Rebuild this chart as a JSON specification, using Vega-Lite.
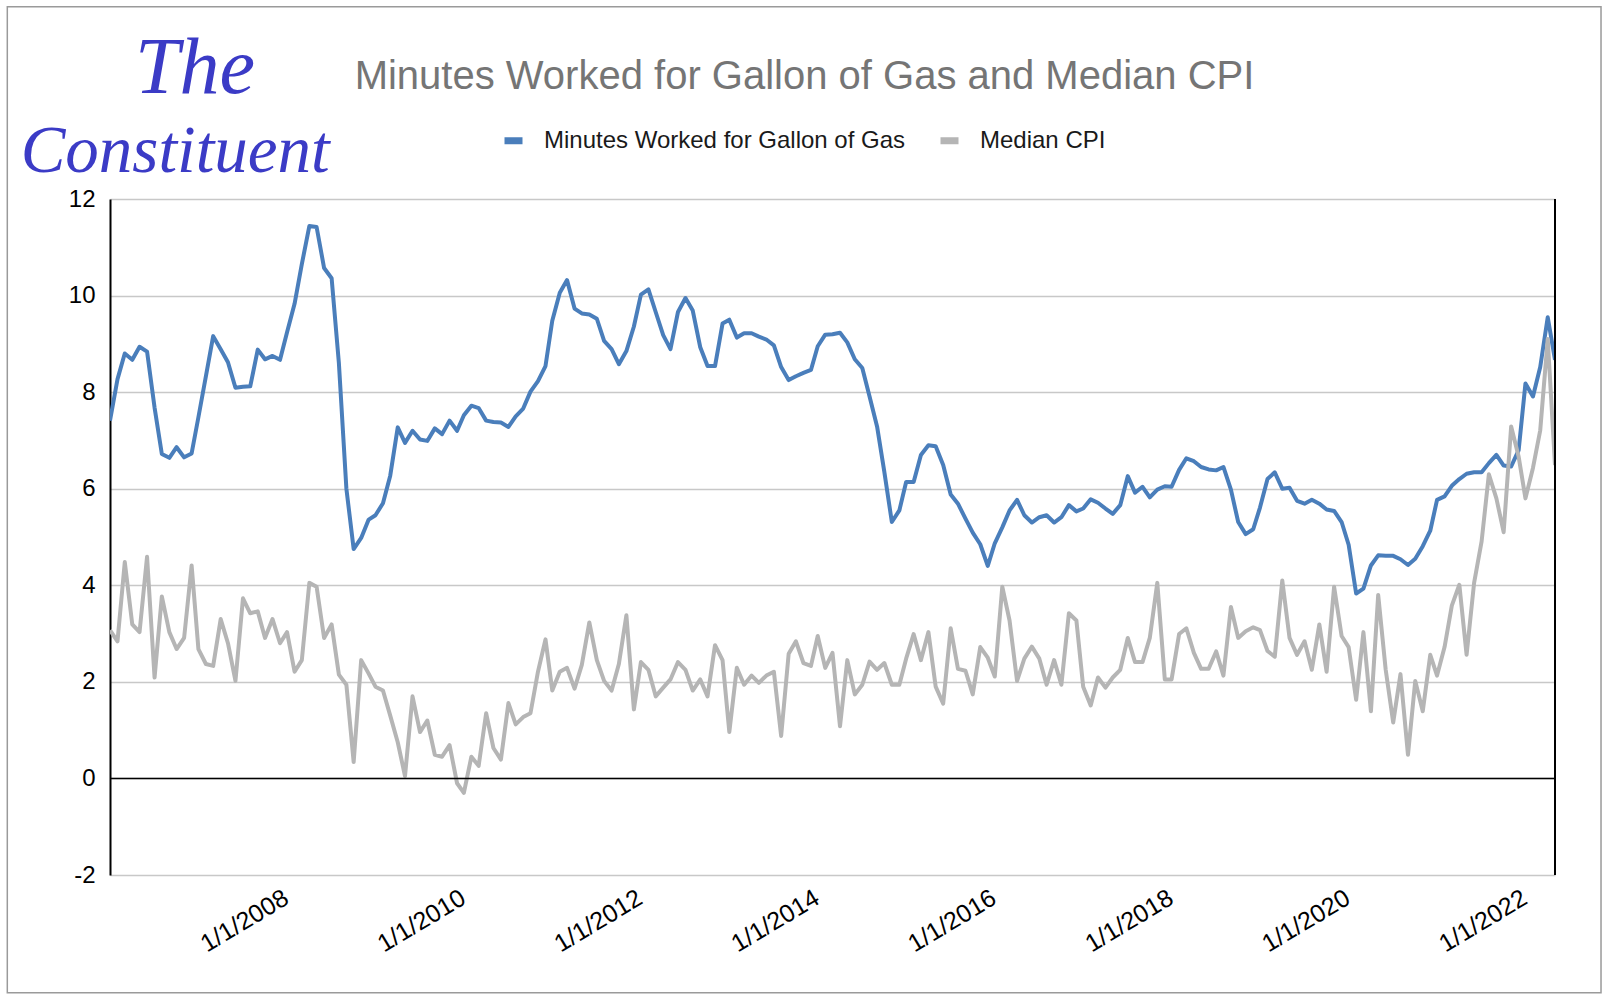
{
  "$schema": "https://vega.github.io/schema/vega-lite/v6.json",
  "width": 1445,
  "height": 676,
  "autosize": "none",
  "padding": {"left": 110, "top": 199, "right": 55, "bottom": 127},
  "background": "white",
  "title": {"text": "Minutes Worked for Gallon of Gas and Median CPI", "font": "Liberation Sans", "fontSize": 40, "fontWeight": "normal", "color": "#757575", "anchor": "middle", "frame": "group", "baseline": "alphabetic", "offset": -123, "dx": -28},
  "config": {"view": {"stroke": null}, "font": "Liberation Sans", "axis": {"labelFont": "Liberation Sans"}, "legend": {"labelFont": "Liberation Sans"}},
  "data": {"values": [
    {"date":"2006-03-01","gas":7.41,"cpi":3.07},{"date":"2006-04-01","gas":8.27,"cpi":2.84},{"date":"2006-05-01","gas":8.80,"cpi":4.48},{"date":"2006-06-01","gas":8.67,"cpi":3.19},{"date":"2006-07-01","gas":8.94,"cpi":3.03},{"date":"2006-08-01","gas":8.84,"cpi":4.59},{"date":"2006-09-01","gas":7.68,"cpi":2.09},{"date":"2006-10-01","gas":6.72,"cpi":3.77},{"date":"2006-11-01","gas":6.64,"cpi":3.03},{"date":"2006-12-01","gas":6.86,"cpi":2.68},
    {"date":"2007-01-01","gas":6.65,"cpi":2.91},{"date":"2007-02-01","gas":6.73,"cpi":4.41},{"date":"2007-03-01","gas":7.48,"cpi":2.68},{"date":"2007-04-01","gas":8.33,"cpi":2.37},{"date":"2007-05-01","gas":9.16,"cpi":2.33},{"date":"2007-06-01","gas":8.89,"cpi":3.30},{"date":"2007-07-01","gas":8.62,"cpi":2.80},{"date":"2007-08-01","gas":8.09,"cpi":2.02},{"date":"2007-09-01","gas":8.11,"cpi":3.73},{"date":"2007-10-01","gas":8.12,"cpi":3.42},{"date":"2007-11-01","gas":8.88,"cpi":3.46},{"date":"2007-12-01","gas":8.68,"cpi":2.91},
    {"date":"2008-01-01","gas":8.75,"cpi":3.30},{"date":"2008-02-01","gas":8.67,"cpi":2.80},{"date":"2008-03-01","gas":9.24,"cpi":3.03},{"date":"2008-04-01","gas":9.83,"cpi":2.21},{"date":"2008-05-01","gas":10.65,"cpi":2.45},{"date":"2008-06-01","gas":11.44,"cpi":4.05},{"date":"2008-07-01","gas":11.42,"cpi":3.97},{"date":"2008-08-01","gas":10.57,"cpi":2.91},{"date":"2008-09-01","gas":10.36,"cpi":3.19},{"date":"2008-10-01","gas":8.6,"cpi":2.15},{"date":"2008-11-01","gas":6.0,"cpi":1.94},{"date":"2008-12-01","gas":4.75,"cpi":0.34},
    {"date":"2009-01-01","gas":4.98,"cpi":2.45},{"date":"2009-02-01","gas":5.36,"cpi":2.17},{"date":"2009-03-01","gas":5.45,"cpi":1.90},{"date":"2009-04-01","gas":5.70,"cpi":1.82},{"date":"2009-05-01","gas":6.27,"cpi":1.30},{"date":"2009-06-01","gas":7.27,"cpi":0.75},{"date":"2009-07-01","gas":6.95,"cpi":0.05},{"date":"2009-08-01","gas":7.20,"cpi":1.70},{"date":"2009-09-01","gas":7.02,"cpi":0.96},{"date":"2009-10-01","gas":6.99,"cpi":1.20},{"date":"2009-11-01","gas":7.25,"cpi":0.49},{"date":"2009-12-01","gas":7.13,"cpi":0.45},
    {"date":"2010-01-01","gas":7.41,"cpi":0.69},{"date":"2010-02-01","gas":7.20,"cpi":-0.1},{"date":"2010-03-01","gas":7.52,"cpi":-0.3},{"date":"2010-04-01","gas":7.72,"cpi":0.45},{"date":"2010-05-01","gas":7.67,"cpi":0.26},{"date":"2010-06-01","gas":7.41,"cpi":1.35},{"date":"2010-07-01","gas":7.38,"cpi":0.63},{"date":"2010-08-01","gas":7.37,"cpi":0.39},{"date":"2010-09-01","gas":7.28,"cpi":1.56},{"date":"2010-10-01","gas":7.50,"cpi":1.12},{"date":"2010-11-01","gas":7.66,"cpi":1.27},{"date":"2010-12-01","gas":8.01,"cpi":1.35},
    {"date":"2011-01-01","gas":8.23,"cpi":2.21},{"date":"2011-02-01","gas":8.54,"cpi":2.88},{"date":"2011-03-01","gas":9.48,"cpi":1.82},{"date":"2011-04-01","gas":10.06,"cpi":2.21},{"date":"2011-05-01","gas":10.32,"cpi":2.29},{"date":"2011-06-01","gas":9.73,"cpi":1.86},{"date":"2011-07-01","gas":9.63,"cpi":2.35},{"date":"2011-08-01","gas":9.61,"cpi":3.23},{"date":"2011-09-01","gas":9.52,"cpi":2.45},{"date":"2011-10-01","gas":9.06,"cpi":2.02},{"date":"2011-11-01","gas":8.89,"cpi":1.82},{"date":"2011-12-01","gas":8.58,"cpi":2.37},
    {"date":"2012-01-01","gas":8.85,"cpi":3.38},{"date":"2012-02-01","gas":9.36,"cpi":1.43},{"date":"2012-03-01","gas":10.02,"cpi":2.41},{"date":"2012-04-01","gas":10.13,"cpi":2.25},{"date":"2012-05-01","gas":9.66,"cpi":1.70},{"date":"2012-06-01","gas":9.18,"cpi":1.88},{"date":"2012-07-01","gas":8.89,"cpi":2.05},{"date":"2012-08-01","gas":9.66,"cpi":2.41},{"date":"2012-09-01","gas":9.95,"cpi":2.25},{"date":"2012-10-01","gas":9.69,"cpi":1.82},{"date":"2012-11-01","gas":8.93,"cpi":2.05},{"date":"2012-12-01","gas":8.54,"cpi":1.70},
    {"date":"2013-01-01","gas":8.54,"cpi":2.76},{"date":"2013-02-01","gas":9.42,"cpi":2.45},{"date":"2013-03-01","gas":9.50,"cpi":0.96},{"date":"2013-04-01","gas":9.13,"cpi":2.29},{"date":"2013-05-01","gas":9.22,"cpi":1.94},{"date":"2013-06-01","gas":9.22,"cpi":2.13},{"date":"2013-07-01","gas":9.15,"cpi":1.98},{"date":"2013-08-01","gas":9.09,"cpi":2.13},{"date":"2013-09-01","gas":8.97,"cpi":2.21},{"date":"2013-10-01","gas":8.52,"cpi":0.88},{"date":"2013-11-01","gas":8.25,"cpi":2.58},{"date":"2013-12-01","gas":8.33,"cpi":2.84},
    {"date":"2014-01-01","gas":8.40,"cpi":2.39},{"date":"2014-02-01","gas":8.46,"cpi":2.33},{"date":"2014-03-01","gas":8.95,"cpi":2.95},{"date":"2014-04-01","gas":9.19,"cpi":2.29},{"date":"2014-05-01","gas":9.20,"cpi":2.60},{"date":"2014-06-01","gas":9.23,"cpi":1.08},{"date":"2014-07-01","gas":9.03,"cpi":2.45},{"date":"2014-08-01","gas":8.68,"cpi":1.74},{"date":"2014-09-01","gas":8.50,"cpi":1.94},{"date":"2014-10-01","gas":7.91,"cpi":2.42},{"date":"2014-11-01","gas":7.29,"cpi":2.25},{"date":"2014-12-01","gas":6.35,"cpi":2.39},
    {"date":"2015-01-01","gas":5.31,"cpi":1.94},{"date":"2015-02-01","gas":5.55,"cpi":1.94},{"date":"2015-03-01","gas":6.14,"cpi":2.48},{"date":"2015-04-01","gas":6.14,"cpi":2.99},{"date":"2015-05-01","gas":6.70,"cpi":2.45},{"date":"2015-06-01","gas":6.90,"cpi":3.03},{"date":"2015-07-01","gas":6.88,"cpi":1.90},{"date":"2015-08-01","gas":6.49,"cpi":1.55},{"date":"2015-09-01","gas":5.88,"cpi":3.11},{"date":"2015-10-01","gas":5.69,"cpi":2.27},{"date":"2015-11-01","gas":5.38,"cpi":2.23},{"date":"2015-12-01","gas":5.09,"cpi":1.74},
    {"date":"2016-01-01","gas":4.85,"cpi":2.72},{"date":"2016-02-01","gas":4.40,"cpi":2.50},{"date":"2016-03-01","gas":4.87,"cpi":2.11},{"date":"2016-04-01","gas":5.20,"cpi":3.97},{"date":"2016-05-01","gas":5.55,"cpi":3.27},{"date":"2016-06-01","gas":5.77,"cpi":2.02},{"date":"2016-07-01","gas":5.45,"cpi":2.48},{"date":"2016-08-01","gas":5.30,"cpi":2.73},{"date":"2016-09-01","gas":5.41,"cpi":2.48},{"date":"2016-10-01","gas":5.45,"cpi":1.94},{"date":"2016-11-01","gas":5.30,"cpi":2.45},{"date":"2016-12-01","gas":5.41,"cpi":1.94},
    {"date":"2017-01-01","gas":5.66,"cpi":3.42},{"date":"2017-02-01","gas":5.53,"cpi":3.27},{"date":"2017-03-01","gas":5.59,"cpi":1.90},{"date":"2017-04-01","gas":5.78,"cpi":1.51},{"date":"2017-05-01","gas":5.71,"cpi":2.09},{"date":"2017-06-01","gas":5.59,"cpi":1.88},{"date":"2017-07-01","gas":5.48,"cpi":2.09},{"date":"2017-08-01","gas":5.66,"cpi":2.25},{"date":"2017-09-01","gas":6.26,"cpi":2.91},{"date":"2017-10-01","gas":5.92,"cpi":2.41},{"date":"2017-11-01","gas":6.04,"cpi":2.41},{"date":"2017-12-01","gas":5.82,"cpi":2.91},
    {"date":"2018-01-01","gas":5.98,"cpi":4.05},{"date":"2018-02-01","gas":6.05,"cpi":2.05},{"date":"2018-03-01","gas":6.04,"cpi":2.05},{"date":"2018-04-01","gas":6.39,"cpi":2.99},{"date":"2018-05-01","gas":6.63,"cpi":3.11},{"date":"2018-06-01","gas":6.57,"cpi":2.60},{"date":"2018-07-01","gas":6.45,"cpi":2.27},{"date":"2018-08-01","gas":6.40,"cpi":2.27},{"date":"2018-09-01","gas":6.38,"cpi":2.63},{"date":"2018-10-01","gas":6.45,"cpi":2.13},{"date":"2018-11-01","gas":5.98,"cpi":3.55},{"date":"2018-12-01","gas":5.31,"cpi":2.91},
    {"date":"2019-01-01","gas":5.06,"cpi":3.05},{"date":"2019-02-01","gas":5.16,"cpi":3.13},{"date":"2019-03-01","gas":5.61,"cpi":3.07},{"date":"2019-04-01","gas":6.20,"cpi":2.64},{"date":"2019-05-01","gas":6.34,"cpi":2.52},{"date":"2019-06-01","gas":6.00,"cpi":4.10},{"date":"2019-07-01","gas":6.02,"cpi":2.91},{"date":"2019-08-01","gas":5.75,"cpi":2.56},{"date":"2019-09-01","gas":5.69,"cpi":2.84},{"date":"2019-10-01","gas":5.77,"cpi":2.25},{"date":"2019-11-01","gas":5.69,"cpi":3.19},{"date":"2019-12-01","gas":5.57,"cpi":2.21},
    {"date":"2020-01-01","gas":5.54,"cpi":3.97},{"date":"2020-02-01","gas":5.31,"cpi":2.95},{"date":"2020-03-01","gas":4.84,"cpi":2.72},{"date":"2020-04-01","gas":3.83,"cpi":1.63},{"date":"2020-05-01","gas":3.93,"cpi":3.03},{"date":"2020-06-01","gas":4.41,"cpi":1.39},{"date":"2020-07-01","gas":4.62,"cpi":3.80},{"date":"2020-08-01","gas":4.61,"cpi":2.25},{"date":"2020-09-01","gas":4.61,"cpi":1.16},{"date":"2020-10-01","gas":4.54,"cpi":2.16},{"date":"2020-11-01","gas":4.42,"cpi":0.49},{"date":"2020-12-01","gas":4.55,"cpi":2.02},
    {"date":"2021-01-01","gas":4.81,"cpi":1.39},{"date":"2021-02-01","gas":5.13,"cpi":2.56},{"date":"2021-03-01","gas":5.77,"cpi":2.13},{"date":"2021-04-01","gas":5.84,"cpi":2.72},{"date":"2021-05-01","gas":6.06,"cpi":3.58},{"date":"2021-06-01","gas":6.20,"cpi":4.01},{"date":"2021-07-01","gas":6.31,"cpi":2.56},{"date":"2021-08-01","gas":6.34,"cpi":4.05},{"date":"2021-09-01","gas":6.34,"cpi":4.91},{"date":"2021-10-01","gas":6.53,"cpi":6.30},{"date":"2021-11-01","gas":6.70,"cpi":5.80},{"date":"2021-12-01","gas":6.48,"cpi":5.10},
    {"date":"2022-01-01","gas":6.46,"cpi":7.29},{"date":"2022-02-01","gas":6.80,"cpi":6.66},{"date":"2022-03-01","gas":8.18,"cpi":5.80},{"date":"2022-04-01","gas":7.91,"cpi":6.43},{"date":"2022-05-01","gas":8.52,"cpi":7.21},{"date":"2022-06-01","gas":9.55,"cpi":9.10},{"date":"2022-07-01","gas":8.67,"cpi":6.49}
  ]},
  "layer": [
    {
      "mark": {"type": "line", "strokeWidth": 4, "strokeJoin": "round", "clip": true},
      "encoding": {
        "x": {"field": "date", "type": "temporal", "scale": {"domain": [{"year": 2006, "month": 3, "date": 1}, {"year": 2022, "month": 7, "date": 1}]},
          "axis": {"values": [{"year": 2008, "month": 1, "date": 1}, {"year": 2010, "month": 1, "date": 1}, {"year": 2012, "month": 1, "date": 1}, {"year": 2014, "month": 1, "date": 1}, {"year": 2016, "month": 1, "date": 1}, {"year": 2018, "month": 1, "date": 1}, {"year": 2020, "month": 1, "date": 1}, {"year": 2022, "month": 1, "date": 1}],
            "format": "%-m/%-d/%Y", "labelAngle": -31, "labelAlign": "right", "labelBaseline": "top", "labelFontSize": 25, "labelColor": "black", "labelPadding": 10, "labelOffset": 7, "domain": false, "ticks": false, "grid": false, "title": null, "labelOverlap": false}},
        "y": {"field": "gas", "type": "quantitative", "scale": {"domain": [-2, 12], "nice": false, "zero": false},
          "axis": {"values": [-2, 0, 2, 4, 6, 8, 10, 12], "labelExpr": "replace(datum.label, '\u2212', '-')", "labelFontSize": 24, "labelColor": "black", "labelPadding": 15, "ticks": false, "domain": true, "domainColor": "black", "domainWidth": 2, "grid": true, "gridColor": "#c8c8c8", "gridWidth": 1.5, "title": null}},
        "color": {"datum": "Minutes Worked for Gallon of Gas", "scale": {"domain": ["Minutes Worked for Gallon of Gas", "Median CPI"], "range": ["#4a7ebb", "#b5b5b5"]},
          "legend": {"orient": "none", "direction": "horizontal", "legendX": 391, "legendY": -71, "title": null, "symbolType": "stroke", "symbolSize": 324, "symbolStrokeWidth": 7, "labelFontSize": 24, "labelColor": "#1a1a1a", "columnPadding": 20, "labelOffset": 18, "labelLimit": 600}}
      }
    },
    {
      "mark": {"type": "line", "strokeWidth": 4, "strokeJoin": "round", "clip": true},
      "encoding": {
        "x": {"field": "date", "type": "temporal"},
        "y": {"field": "cpi", "type": "quantitative"},
        "color": {"datum": "Median CPI"}
      }
    },
    {
      "data": {"values": [{}]},
      "mark": {"type": "rule", "color": "black", "strokeWidth": 1.5},
      "encoding": {
        "y": {"datum": 0, "type": "quantitative"}
      }
    },
    {
      "data": {"values": [{}]},
      "mark": {"type": "rule", "color": "black", "strokeWidth": 2},
      "encoding": {
        "x": {"datum": {"year": 2022, "month": 7, "date": 1}, "type": "temporal"},
        "y": {"datum": -2, "type": "quantitative"},
        "y2": {"datum": 12}
      }
    },
    {
      "data": {"values": [{}]},
      "mark": {"type": "rect", "fill": "transparent", "stroke": "#9a9a9a", "strokeWidth": 1.5, "clip": false},
      "encoding": {
        "x": {"datum": {"year": 2005, "month": 1, "date": 1}, "type": "temporal"},
        "x2": {"datum": {"year": 2023, "month": 1, "date": 7}},
        "y": {"datum": 15.98, "type": "quantitative"},
        "y2": {"datum": -4.44}
      }
    },
    {
      "data": {"values": [{}]},
      "mark": {"type": "text", "text": "The", "font": "Liberation Serif", "fontStyle": "italic", "fontSize": 80, "color": "#3b3bc6", "align": "center", "baseline": "alphabetic", "clip": false},
      "encoding": {
        "x": {"datum": {"year": 2007, "month": 2, "date": 15}, "type": "temporal"},
        "y": {"datum": 14.2, "type": "quantitative"}
      }
    },
    {
      "data": {"values": [{}]},
      "mark": {"type": "text", "text": "Constituent", "font": "Liberation Serif", "fontStyle": "italic", "fontSize": 67, "color": "#3b3bc6", "align": "center", "baseline": "alphabetic", "clip": false},
      "encoding": {
        "x": {"datum": {"year": 2006, "month": 11, "date": 25}, "type": "temporal"},
        "y": {"datum": 12.55, "type": "quantitative"}
      }
    }
  ]
}
